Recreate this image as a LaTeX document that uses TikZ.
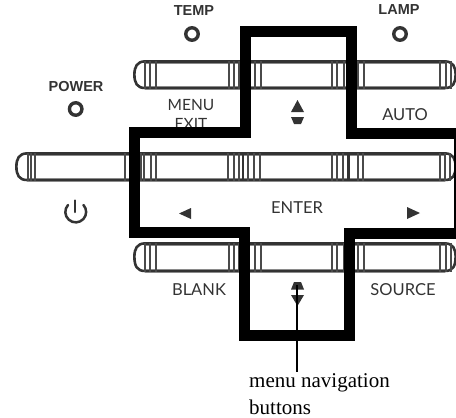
\documentclass[tikz,border=0pt]{standalone}
\usepackage{fontspec}
\setmainfont{Liberation Serif}
\newfontfamily\ledfont{Liberation Sans}
\newfontfamily\keyfont{Lato}
\definecolor{ink}{HTML}{333333}
\definecolor{tickc}{HTML}{4A4A4A}
\definecolor{railc}{HTML}{8A8A8A}
\newcommand{\keyrow}[4]{% left, right, top, bottom
  \draw[railc,line width=4pt] (#1+12,#3+2) -- (#2-12,#3+2) (#1+12,#4-2.4) -- (#2-12,#4-2.4);
  \draw[ink,line width=2.6pt] (#1+12,#3+1.4) -- (#2-12,#3+1.4) (#1+12,#4-2) -- (#2-12,#4-2);
  \draw[ink,line width=2.6pt] (#1+12,#3+1.4) .. controls (#1+4,#3+1.4) and (#1+1.4,#3+7) .. (#1+1.4,#3+14.5)
     .. controls (#1+1.4,#4-7) and (#1+4,#4-2) .. (#1+12,#4-2);
  \draw[ink,line width=2.6pt] (#2-12,#3+1.4) .. controls (#2-4,#3+1.4) and (#2-1.4,#3+7) .. (#2-1.4,#3+14.5)
     .. controls (#2-1.4,#4-7) and (#2-4,#4-2) .. (#2-12,#4-2);
}
\newcommand{\keyticks}[3]{% top, bottom, list
  \foreach \tx in {#3} \draw[keytick] (\tx,#1+1) -- (\tx,#2-1);
}
\tikzset{
  x=1pt,y=-1pt,
  keytick/.style={tickc,line width=1.1pt},
  ledlabel/.style={font=\ledfont\bfseries\fontsize{14.5}{16}\selectfont,text=ink,inner sep=0pt},
  keylabel/.style={font=\keyfont\fontsize{16.5}{18}\selectfont,text=ink,inner sep=0pt},
  menulabel/.style={font=\keyfont\fontsize{15.5}{18}\selectfont,text=ink,inner sep=0pt},
  led/.style={circle,draw=ink,line width=3.4pt,minimum size=12.5pt,inner sep=0pt},
  glyph/.style={fill=ink,draw=none},
  crossline/.style={black,line width=11pt,miter limit=10},
  caption/.style={font=\fontsize{21}{27}\selectfont,align=left,inner sep=0pt,anchor=north west,text=black},
  leader/.style={black,line width=1.3pt}
}
\begin{document}
\begin{tikzpicture}
\useasboundingbox (0,0) rectangle (456,418);
\clip (0,0) rectangle (456,418);
\keyrow{133}{457}{60}{90}
\keyticks{60}{90}{145,150,156,229,234,239,255,261,332,337,344,358,364,440,446,451}
\keyrow{15}{457}{152}{182}
\keyticks{152}{182}{28,31,35,125,130,141,144,151,156,228,234,239,248,254,260,332,337,343,358,363,440,445,450}
\draw[ink,line width=2.6pt] (243,153) -- (243,180) (348.5,153) -- (348.5,180);
\keyrow{133}{457}{242}{273}
\keyticks{242}{273}{145,150,156,229,234,239,255,261,332,337,344,358,364,440,446,451}
% indicator lights
\node[ledlabel] (templabel) at (194,11) {TEMP};
\node[led] (templed) at (192,34) {};
\node[ledlabel] (lamplabel) at (399,10) {LAMP};
\node[led] (lampled) at (400,34) {};
\node[ledlabel] (powerlabel) at (76,87) {POWER};
\node[led] (powerled) at (75.7,109) {};
% key labels
\node[menulabel] (menu) at (191,105.5) {MENU};
\node[menulabel] (exit) at (191,123.5) {EXIT};
\node[keylabel] (auto) at (405,114.5) {AUTO};
\node[keylabel] (enter) at (297,207.5) {ENTER};
\node[keylabel] (blank) at (199,289.5) {BLANK};
\node[keylabel] (source) at (403,289.5) {SOURCE};
% glyphs
\fill[glyph] (297.5,100) -- (304,112) -- (291,112) -- cycle;
\fill[glyph] (291,117) -- (304,117) -- (301,124) -- (294,124) -- cycle;
\fill[glyph] (294,282) -- (301,282) -- (304,289.5) -- (291,289.5) -- cycle;
\fill[glyph] (291,295) -- (304,295) -- (297.5,306) -- cycle;
\fill[glyph] (179,213.5) -- (191,208) -- (191,219) -- cycle;
\fill[glyph] (420,213) -- (407,207) -- (407,219) -- cycle;
\draw[ink,line width=2.5pt,line cap=round] (75,200.5) -- (75,212);
\draw[ink,line width=2.5pt,line cap=round] (68,205) arc[start angle=222,end angle=-42,radius=10.4];
% cross outline
\draw[crossline] (245.3,31.5) -- (351.7,31.5) -- (351.7,133) -- (459.5,133) -- (459.5,233)
  -- (349.7,233) -- (349.7,335) -- (244.5,335) -- (244.5,232) -- (134.5,232) -- (134.5,132.5) -- (245.3,132.5) -- cycle;
% caption and leader
\node[caption] (cap) at (249,373) {menu navigation\\buttons};
\coordinate (tip) at (297,285);
\coordinate (capanchor) at (297,372);
\draw[leader] (tip) -- (capanchor);
\end{tikzpicture}
\end{document}
